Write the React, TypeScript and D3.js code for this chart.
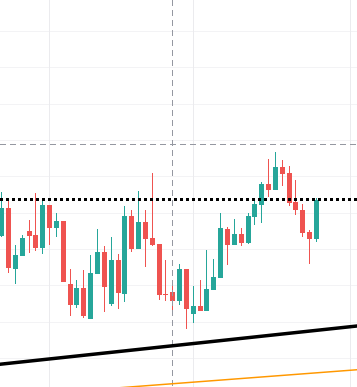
import React from "react";
import * as d3 from "d3";

const W = 357;
const H = 387;

// OHLC price data (index = bar number)
const opens = [133.58, 141.29, 124.5, 128.08, 134.96, 133.86, 130.28, 142.11, 135.78, 137.71, 120.37, 114.59, 119.27, 110.73, 123.12, 129.18, 114.86, 126.97, 117.62, 139.09, 130.0, 137.43, 133.03, 131.38, 117.5, 118.17, 115.69, 124.5, 112.11, 114.31, 112.94, 118.72, 122.02, 135.51, 131.1, 134.13, 131.65, 138.81, 142.11, 147.89, 146.24, 152.57, 150.92, 142.94, 140.74, 134.68, 132.75];
const highs = [145.69, 143.21, 131.1, 133.86, 137.98, 145.42, 143.49, 142.11, 139.91, 137.71, 124.5, 121.47, 124.22, 128.35, 135.51, 130.83, 133.31, 128.63, 141.84, 140.74, 145.97, 140.74, 150.92, 131.38, 126.97, 121.47, 125.87, 124.5, 119.82, 121.47, 129.73, 127.25, 139.91, 136.06, 138.26, 135.78, 139.91, 143.49, 148.44, 154.77, 156.7, 154.5, 152.85, 148.99, 142.39, 135.23, 144.04];
const lows = [133.31, 123.4, 120.37, 128.08, 128.9, 129.45, 128.63, 131.1, 133.31, 120.92, 111.56, 113.76, 111.01, 110.73, 123.12, 112.66, 114.31, 113.49, 115.41, 129.18, 130.0, 125.05, 130.83, 115.96, 115.69, 112.39, 114.59, 107.98, 109.63, 112.94, 112.94, 118.72, 122.02, 125.6, 131.1, 130.83, 131.38, 136.61, 137.16, 144.32, 146.24, 147.34, 141.84, 139.36, 133.31, 125.87, 131.93];
const closes = [141.29, 124.77, 128.35, 133.03, 133.58, 130.28, 142.11, 135.78, 137.71, 120.92, 114.59, 119.27, 111.56, 123.4, 129.18, 119.54, 126.97, 117.89, 139.09, 130.0, 137.43, 132.75, 131.1, 117.34, 117.3, 115.69, 124.5, 113.49, 114.31, 112.94, 118.99, 122.3, 135.78, 131.1, 134.13, 131.65, 139.09, 142.39, 147.89, 146.24, 152.57, 150.65, 142.66, 140.74, 134.41, 132.75, 143.49];

// Price grid levels and time grid bar indices
const priceGrid = [100, 110, 120, 130, 140, 150, 160, 170, 180, 190];
const timeGrid = [7, 28, 51];

// Drawings
const dottedLevel = [143.5];
const crosshairBar = [25];
const crosshairPrice = [158.8];
const trendBars = [0, 46];
const trendPrices = [98.32, 107.61];
const orangeBars = [20, 46];
const orangePrices = [92.21, 95.93];

const UP = "#26a69a";
const DOWN = "#ef5350";

export default function App() {
  const x = d3.scaleLinear().domain([0, 46]).range([1.66, 316.5]);
  const y = d3.scaleLinear().domain([100, 190]).range([358, 31]);

  const extLine = (bars: number[], prices: number[]) => {
    const slope = (prices[1] - prices[0]) / (bars[1] - bars[0]);
    const b0 = x.invert(-10);
    const b1 = x.invert(W + 10);
    const p0 = prices[0] + slope * (b0 - bars[0]);
    const p1 = prices[0] + slope * (b1 - bars[0]);
    return d3.line()([
      [x(b0), y(p0)],
      [x(b1), y(p1)],
    ]) as string;
  };

  const candles = opens.map((o, i) => {
    const c = closes[i];
    const cx = x(i);
    const left = Math.round(cx - 2.5);
    const top = Math.round(y(Math.max(o, c)));
    const bot = Math.max(top + 1, Math.round(y(Math.min(o, c))));
    const hi = Math.round(y(highs[i]));
    const lo = Math.round(y(lows[i]));
    const col = c >= o ? UP : DOWN;
    return (
      <g key={i} fill={col}>
        <rect x={left + 2} y={hi} width={1} height={Math.max(1, lo - hi)} />
        <rect x={left} y={top} width={5} height={bot - top} />
      </g>
    );
  });

  return (
    <svg
      width={W}
      height={H}
      style={{ position: "absolute", left: 0, top: 0, background: "#fff" }}
    >
      <rect x={0} y={0} width={W} height={H} fill="#fff" />
      <g shapeRendering="crispEdges">
        {priceGrid.map((p) => (
          <line key={"h" + p} x1={0} x2={W} y1={Math.round(y(p)) + 0.5} y2={Math.round(y(p)) + 0.5} stroke="#f3f3f5" strokeWidth={1} />
        ))}
        {timeGrid.map((b) => (
          <line key={"v" + b} x1={Math.floor(x(b)) + 0.5} x2={Math.floor(x(b)) + 0.5} y1={0} y2={H} stroke="#ebebee" strokeWidth={1} />
        ))}
      </g>
      <g shapeRendering="crispEdges">{candles}</g>
      <line
        x1={0}
        x2={W}
        y1={Math.round(y(crosshairPrice[0])) + 0.5}
        y2={Math.round(y(crosshairPrice[0])) + 0.5}
        stroke="#9598a1"
        strokeWidth={1}
        strokeDasharray="6 4"
        shapeRendering="crispEdges"
      />
      <line
        x1={Math.floor(x(crosshairBar[0])) + 0.5}
        x2={Math.floor(x(crosshairBar[0])) + 0.5}
        y1={0}
        y2={H}
        stroke="#9598a1"
        strokeWidth={1}
        strokeDasharray="6 4"
        shapeRendering="crispEdges"
      />
      <line
        x1={0}
        x2={W}
        y1={y(dottedLevel[0])}
        y2={y(dottedLevel[0])}
        stroke="#000"
        strokeWidth={3}
        strokeDasharray="3 3"
        shapeRendering="crispEdges"
      />
      <path d={extLine(trendBars, trendPrices)} stroke="#000" strokeWidth={3.5} fill="none" />
      <path d={extLine(orangeBars, orangePrices)} stroke="#ff9800" strokeWidth={1.5} fill="none" />
    </svg>
  );
}
